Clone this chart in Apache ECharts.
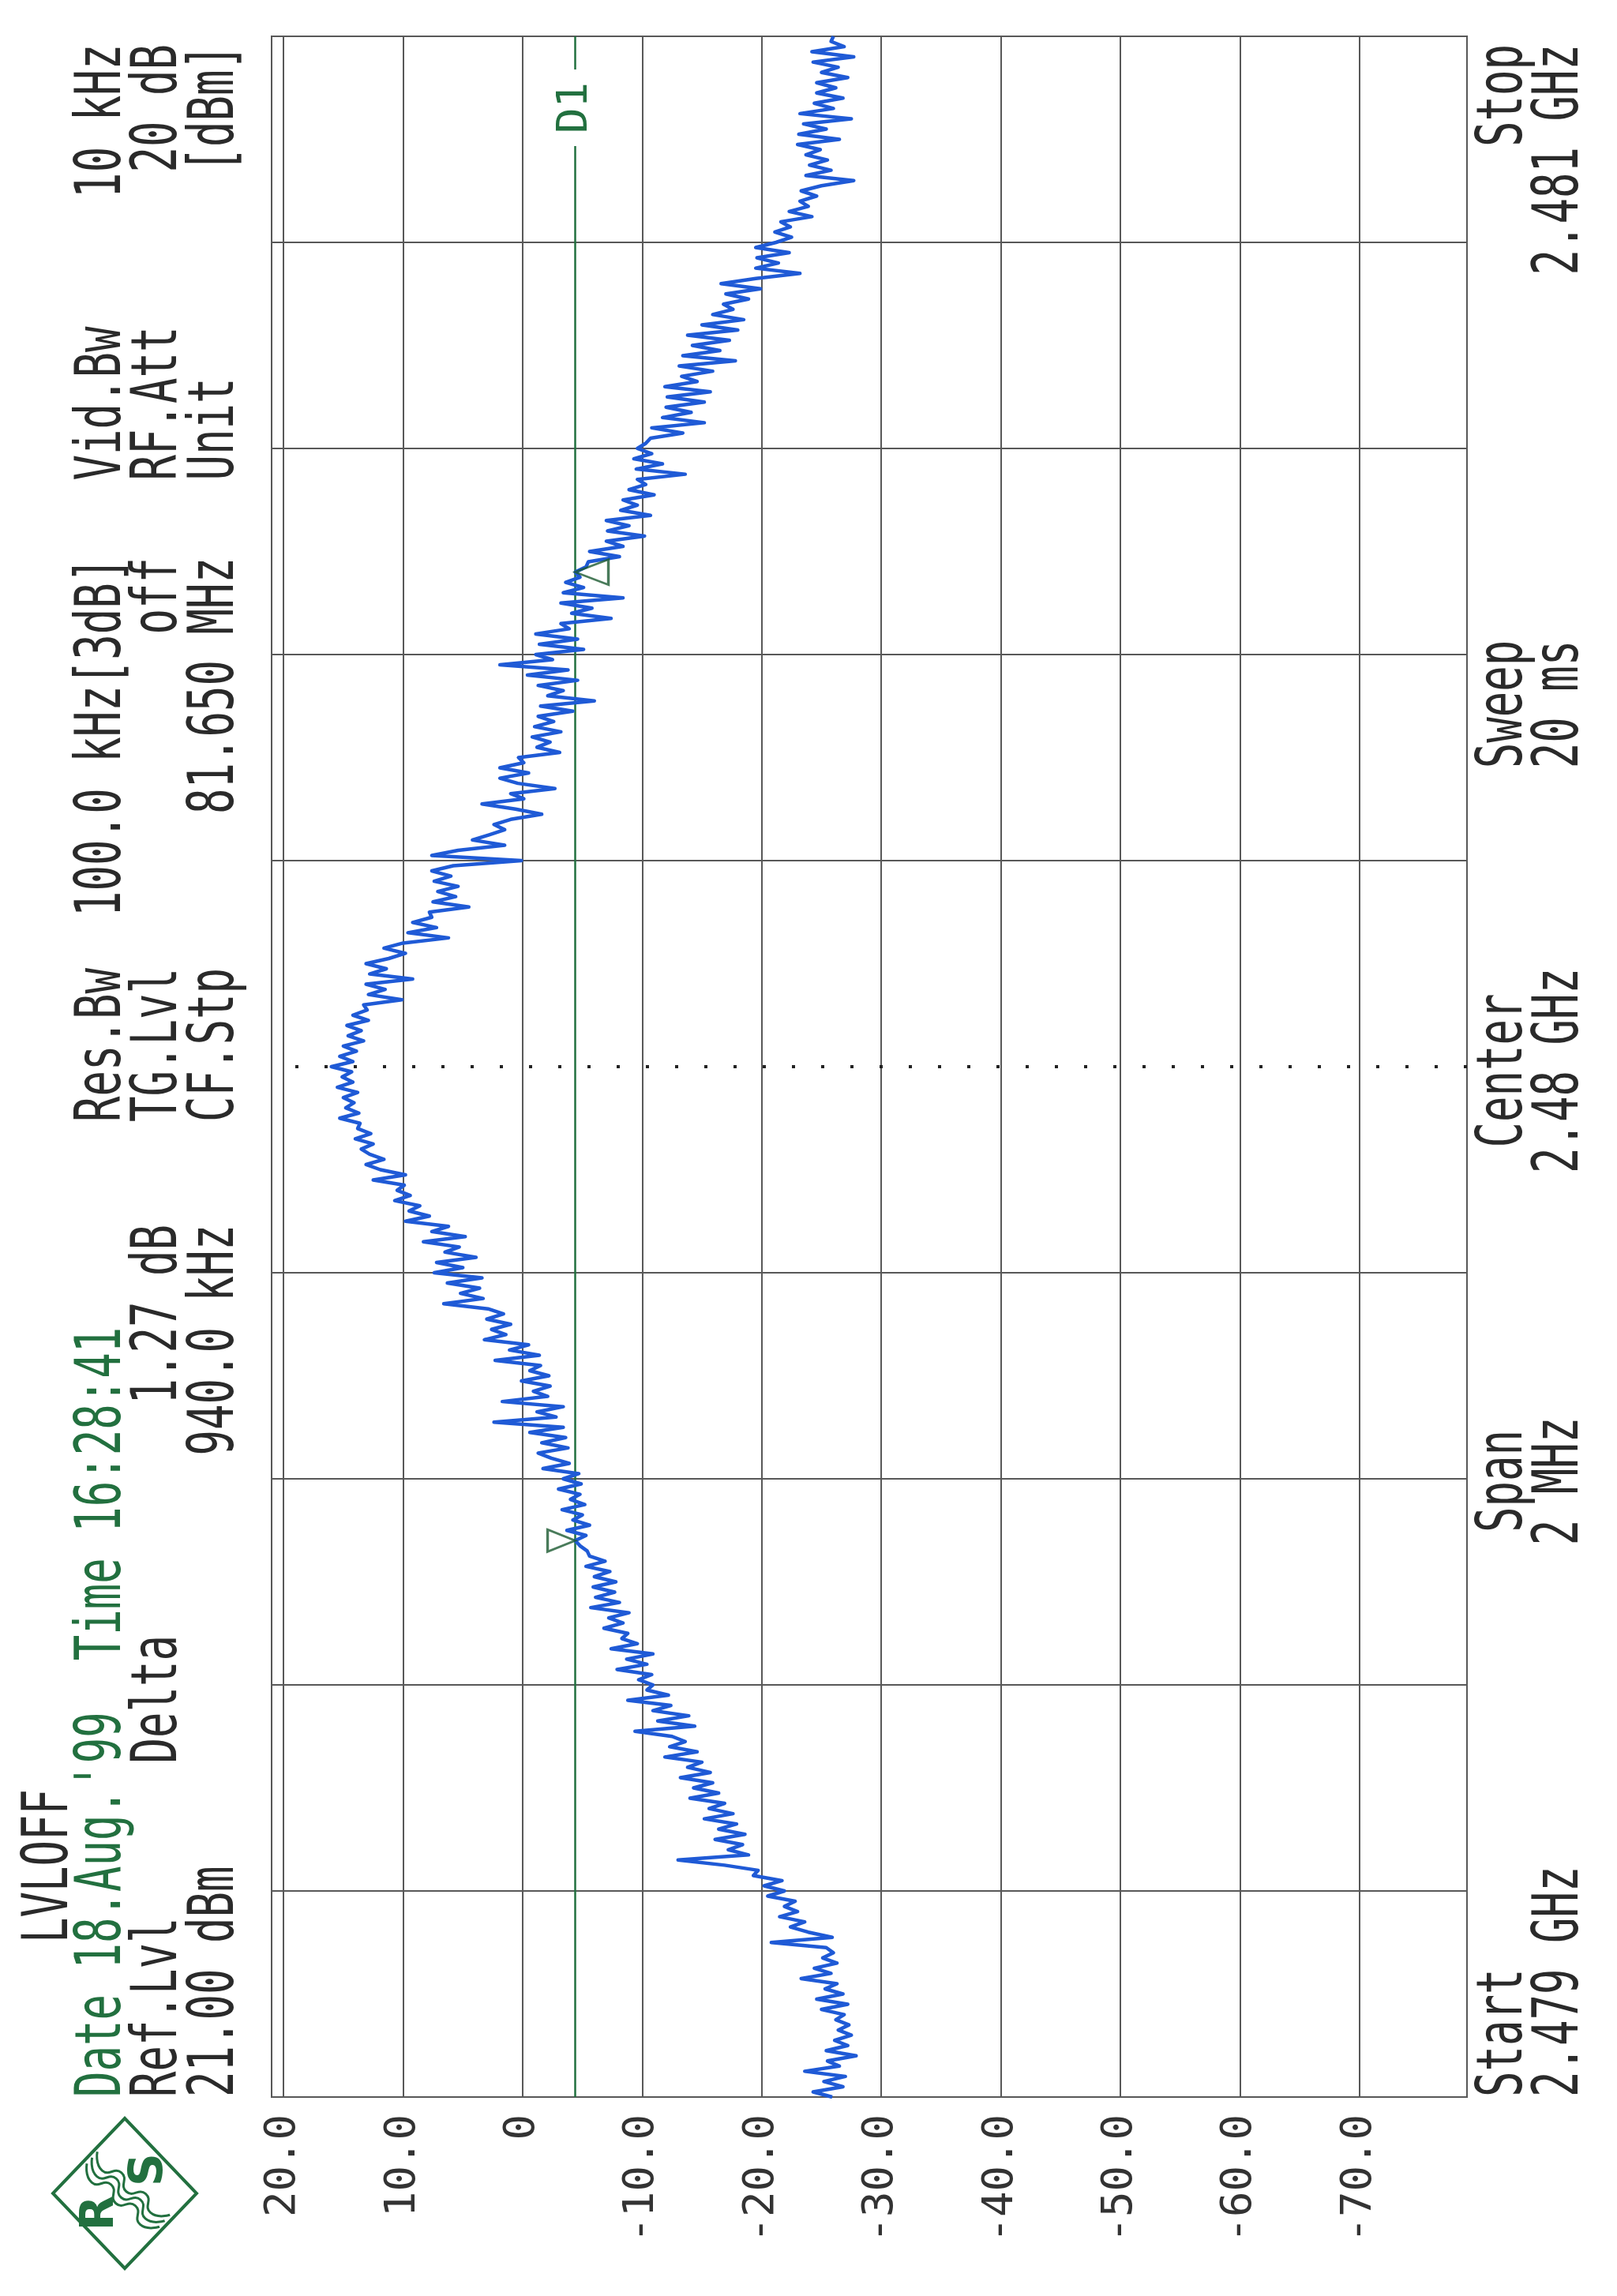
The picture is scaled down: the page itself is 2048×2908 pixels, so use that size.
<!DOCTYPE html>
<html>
<head>
<meta charset="utf-8">
<script src="https://cdn.jsdelivr.net/npm/echarts/dist/echarts.min.js"></script>
<style>
html,body{margin:0;padding:0;background:#ffffff;}
#chart{width:2048px;height:2908px;}
</style>
</head>
<body>
<div id="chart"></div>
<script>
// ---------------- data ----------------
// sweep: 2.479 GHz .. 2.481 GHz, offsets in kHz from start, one sample every 5 kHz
const SWEEP_START_KHZ = 0;
const SWEEP_STEP_KHZ = 5;
const SWEEP_SPAN_KHZ = 2000;
const FREQ_GRID_STEP_KHZ = 200;
const CENTER_KHZ = 1000;

// trace level, dBm
const LEVELS_DBM = [
 -25.9,-24.3,-26.8,-25.2,-27.0,-23.6,-26.5,-25.5,-27.9,-25.4,
 -27.2,-26.1,-27.5,-26.4,-27.3,-26.2,-26.9,-25.0,-27.2,-24.6,
 -26.8,-25.3,-26.3,-23.3,-25.8,-24.4,-26.3,-25.1,-26.0,-25.4,
 -20.8,-25.9,-23.9,-22.4,-23.6,-21.5,-23.0,-21.9,-22.8,-20.5,
 -21.9,-20.2,-21.7,-19.3,-19.7,-16.9,-13.0,-18.9,-17.2,-18.4,
 -16.1,-18.6,-16.4,-17.9,-15.2,-17.6,-15.6,-16.9,-14.0,-16.4,
 -14.3,-15.9,-13.2,-15.7,-13.8,-15.0,-11.9,-14.6,-12.3,-13.6,
 -12.5,-9.4,-14.4,-11.3,-13.9,-10.9,-12.4,-8.8,-12.2,-10.4,
 -10.9,-9.7,-10.8,-7.9,-10.4,-8.7,-10.9,-7.4,-9.6,-8.3,
 -8.8,-6.8,-8.4,-7.2,-8.9,-5.7,-8.1,-6.1,-7.7,-5.9,
 -7.8,-6.0,-7.3,-5.3,-6.9,-5.6,-5.4,-4.8,-4.4,-5.3,
 -3.7,-5.6,-4.2,-5.0,-3.3,-5.2,-4.0,-4.8,-3.0,-4.9,
 -3.4,-4.7,-1.7,-3.9,-2.4,-1.3,-3.8,-1.6,-3.6,-0.6,
 -3.4,2.4,-2.8,-1.2,-3.4,1.7,-2.1,-0.9,-2.3,0.1,
 -2.2,-0.6,-1.5,2.3,-1.4,1.1,-0.5,3.2,1.4,2.6,
 1.0,3.0,1.6,2.9,6.6,3.3,5.2,3.6,6.3,3.4,
 7.4,5.0,7.2,3.9,6.5,5.3,8.3,4.8,7.6,6.2,
 9.8,7.8,9.5,8.6,10.7,9.4,10.5,9.9,12.5,9.8,
 11.9,13.1,11.6,12.8,13.5,12.5,14.0,12.7,13.8,13.6,
 15.3,13.7,14.8,14.1,15.0,13.8,15.5,14.2,15.1,14.3,
 16.0,14.2,15.3,13.9,15.0,13.3,14.6,13.5,14.7,12.9,
 14.2,13.0,13.3,10.1,12.9,11.5,13.1,9.2,12.8,11.4,
 13.1,11.2,9.8,11.6,10.0,6.2,9.6,7.2,9.2,7.6,
 7.8,4.5,7.5,5.6,7.1,5.4,7.4,6.0,7.6,5.8,
 0.1,7.6,5.4,1.5,4.2,2.8,1.5,2.4,1.0,-1.6,
 0.6,3.4,-0.1,1.0,-2.7,0.4,1.9,-0.5,1.9,-0.1,
 0.35,-3.1,-1.2,-2.3,-0.8,-3.2,-1.0,-2.6,-1.3,-4.2,
 -1.5,-6.0,-2.1,-3.4,-1.3,-4.6,-0.4,-3.8,1.9,-2.5,
 -1.1,-5.1,-1.4,-4.6,-1.1,-3.9,-3.2,-7.4,-4.1,-5.8,
 -3.2,-8.4,-3.4,-5.1,-3.6,-4.8,-4.4,-5.3,-5.5,-8.1,
 -5.6,-8.4,-7.0,-10.2,-7.1,-8.9,-7.0,-10.7,-8.2,-9.6,
 -8.4,-11.0,-8.9,-10.3,-9.6,-13.6,-9.5,-11.7,-9.3,-10.8,
 -9.6,-10.3,-10.7,-13.4,-10.8,-15.2,-11.7,-14.1,-12.0,-15.2,
 -12.1,-15.7,-11.9,-14.6,-13.3,-15.9,-13.1,-17.8,-13.4,-16.5,
 -14.2,-17.3,-13.8,-18.0,-15.0,-18.5,-15.9,-17.6,-16.8,-18.9,
 -17.0,-19.9,-16.6,-19.5,-23.2,-19.5,-21.4,-19.6,-22.3,-19.5,
 -21.2,-22.5,-21.1,-22.4,-21.6,-24.2,-22.3,-23.9,-23.2,-24.6,
 -23.3,-25.0,-27.7,-23.7,-25.8,-24.0,-25.5,-23.7,-24.9,-23.0,
 -26.5,-23.1,-25.4,-23.5,-27.5,-23.2,-26.0,-24.4,-26.8,-24.6,
 -26.2,-24.6,-27.2,-25.0,-26.4,-24.3,-27.7,-24.2,-26.9,-25.8,
 -26.0
];

// level axis: ref level 21 dBm at the left edge, 10 dB / div, 10 divisions
const REF_LEVEL_DBM = 21;
const BOTTOM_LEVEL_DBM = -79;
const LEVEL_TICK_LABELS = ['20.0','10.0','0','-10.0','-20.0','-30.0','-40.0','-50.0','-60.0','-70.0'];

// display line and markers
const D1_LEVEL_DBM = -4.4;
const MARKER1 = [-4.4, 540];     // [dBm, kHz from start]  (∇ marker)
const DELTA2  = [-4.4, 1480];    // delta marker: +940 kHz   (Δ marker)

// annotation texts
const HEAD_LINES = {
  l1: [['LVLOFF', 6]],
  l2g: [["Date 18.Aug.'99  Time 16:28:41", 0]],
  l2: [['Res.Bw  100.0 kHz[3dB]', 38], ['Vid.Bw     10 kHz', 63]],
  l3: [['Ref.Lvl', 0], ['Delta', 13], ['1.27 dB', 27], ['TG.Lvl', 38], ['off', 57], ['RF.Att', 63], ['20 dB', 75]],
  l4: [['21.00 dBm', 0], ['940.0 kHz', 25], ['CF.Stp', 38], ['81.650 MHz', 50], ['Unit', 63], ['[dBm]', 75]]
};

// ---------------- chart ----------------
const GRID_COLOR = '#585858';
const TRACE_COLOR = '#1f5ad6';
const GREEN = '#22703f';
const INK = '#2a2a2a';
const MONO = '"DejaVu Sans Mono", "Liberation Mono", monospace';

const traceData = LEVELS_DBM.map((v, i) => [v, SWEEP_START_KHZ + i * SWEEP_STEP_KHZ]);
const freqTicks = [];
for (let f = 0; f <= SWEEP_SPAN_KHZ; f += FREQ_GRID_STEP_KHZ) freqTicks.push(f);
const freqLineColors = freqTicks.map(f => f === CENTER_KHZ ? 'rgba(0,0,0,0)' : GRID_COLOR);

// layout of the page (pixels)
const GRID_L = 344, GRID_R = 1858, GRID_T = 46, GRID_B = 2656;
const ADV = 32.5;          // character pitch of the instrument font
const FS = 54;             // font size giving that pitch
const SY = 1.47;           // condensed instrument font: stretch glyph height
const ROT = Math.PI / 2;

function vtext(text, x, y, color, align) {
  return {
    type: 'text', x: x, y: y, rotation: ROT, scaleX: 1, scaleY: SY, silent: true,
    style: {
      text: text, fill: color,
      font: FS + 'px ' + MONO,
      align: align || 'left', verticalAlign: 'middle',
      textAlign: align || 'left', textVerticalAlign: 'middle'
    }
  };
}
function lineTexts(items, x, color) {
  return items.map(([t, col]) => vtext(t, x, GRID_B - col * ADV, color, 'left'));
}

const LX = [64, 131, 202.5, 274];
const RX = [1906, 1977.5];

const graphics = [].concat(
  lineTexts(HEAD_LINES.l1, LX[0], INK),
  lineTexts(HEAD_LINES.l2g, LX[1], GREEN),
  lineTexts(HEAD_LINES.l2, LX[1], INK),
  lineTexts(HEAD_LINES.l3, LX[2], INK),
  lineTexts(HEAD_LINES.l4, LX[3], INK),
  [
    vtext('Start', RX[0], GRID_B, INK, 'left'),
    vtext('2.479 GHz', RX[1], GRID_B, INK, 'left'),
    vtext('Span', RX[0], 1876, INK, 'center'),
    vtext('2 MHz', RX[1], 1876, INK, 'center'),
    vtext('Center', RX[0], 1356, INK, 'center'),
    vtext('2.48 GHz', RX[1], 1356, INK, 'center'),
    vtext('Sweep', RX[0], 892, INK, 'center'),
    vtext('20 ms', RX[1], 892, INK, 'center'),
    vtext('Stop', RX[0], 56, INK, 'right'),
    vtext('2.481 GHz', RX[1], 56, INK, 'right')
  ]
);

// R&S logo
const logo = [
  {type: 'polygon', silent: true,
   shape: {points: [[158, 2683], [249, 2778], [158, 2873], [67, 2778]]},
   style: {fill: 'none', stroke: GREEN, lineWidth: 4}},
  {type: 'text', x: 128, y: 2803, rotation: ROT, silent: true,
   style: {text: 'R', font: 'bold 58px "DejaVu Sans"', fill: GREEN, align: 'center', verticalAlign: 'middle', textAlign: 'center', textVerticalAlign: 'middle'}},
  {type: 'text', x: 190, y: 2748, rotation: ROT, silent: true,
   style: {text: 'S', font: 'bold 58px "DejaVu Sans"', fill: GREEN, align: 'center', verticalAlign: 'middle', textAlign: 'center', textVerticalAlign: 'middle'}}
];
[-10, 0, 10].forEach(off => {
  const pts = [];
  for (let k = 0; k <= 6; k++) {
    const t = k / 6;
    const bx = 112 + t * 92, by = 2738 + t * 80;
    const w = (k % 2 ? 7 : -7);
    pts.push([bx - 0.66 * (off + w), by + 0.75 * (off + w)]);
  }
  logo.push({type: 'polyline', silent: true, shape: {points: pts, smooth: 0.6},
             style: {stroke: GREEN, lineWidth: 3, fill: null}});
});

const chart = echarts.init(document.getElementById('chart'), null, {renderer: 'canvas'});
chart.setOption({
  animation: false,
  backgroundColor: '#ffffff',
  textStyle: {fontFamily: MONO},
  grid: {left: GRID_L, right: 2048 - GRID_R, top: GRID_T, bottom: 2908 - GRID_B,
         show: true, borderColor: '#4a4a4a', borderWidth: 2, backgroundColor: 'transparent'},
  xAxis: {
    type: 'value', inverse: true, min: BOTTOM_LEVEL_DBM, max: REF_LEVEL_DBM, splitNumber: 10,
    position: 'bottom',
    axisLine: {show: false}, axisTick: {show: false},
    axisLabel: {
      rotate: 90, margin: 22, fontFamily: MONO, fontSize: 54, color: '#333333',
      formatter: function (v) {
        const s = v === 0 ? '0' : v.toFixed(1);
        return LEVEL_TICK_LABELS.indexOf(s) >= 0 ? s : '';
      }
    },
    splitLine: {show: true, lineStyle: {color: GRID_COLOR, width: 2}}
  },
  yAxis: {
    type: 'value', min: 0, max: SWEEP_SPAN_KHZ, interval: FREQ_GRID_STEP_KHZ,
    axisLine: {show: false}, axisTick: {show: false}, axisLabel: {show: false},
    splitLine: {show: true, lineStyle: {color: freqLineColors, width: 2}}
  },
  series: [
    {
      name: 'Trace', type: 'line', data: traceData, showSymbol: false, symbol: 'none',
      lineStyle: {color: TRACE_COLOR, width: 4.5, join: 'round'}, silent: true, z: 5,
      markLine: {
        silent: true, symbol: ['none', 'none'], animation: false,
        data: [
          {xAxis: D1_LEVEL_DBM, lineStyle: {color: GREEN, width: 2.5, type: 'solid'},
           label: {show: true, formatter: 'D1', position: 'insideEnd', distance: 42,
                   color: GREEN, fontFamily: MONO, fontSize: 54,
                   backgroundColor: '#ffffff', padding: [0, 16]}},
          {yAxis: CENTER_KHZ, lineStyle: {color: '#222222', width: 4, type: [4, 33], cap: 'butt'},
           label: {show: false}}
        ]
      }
    },
    {
      name: 'Marker 1', type: 'scatter', data: [MARKER1], silent: true, z: 6,
      symbol: 'path://M0,0L10,6L0,12Z', symbolSize: [35, 28], symbolOffset: ['-50%', 0],
      itemStyle: {color: 'rgba(0,0,0,0)', borderColor: '#1b5a31', borderWidth: 3}
    },
    {
      name: 'Delta 2', type: 'scatter', data: [DELTA2], silent: true, z: 6,
      symbol: 'path://M10,0L0,6L10,12Z', symbolSize: [42, 32], symbolOffset: ['50%', 0],
      itemStyle: {color: 'rgba(0,0,0,0)', borderColor: '#1b5a31', borderWidth: 3}
    }
  ],
  graphic: {elements: graphics.concat(logo)}
});
</script>
</body>
</html>
